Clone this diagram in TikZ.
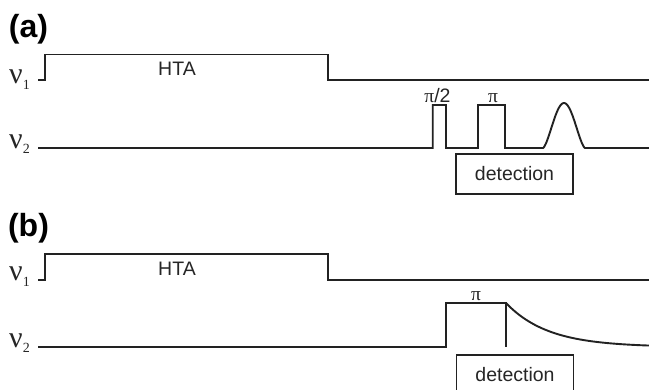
\documentclass[tikz,border=0pt]{standalone}
\usepackage{fontspec}
\setmainfont{Liberation Sans}
\newfontfamily\grkfont{Liberation Serif}
\newfontfamily\pifont{Liberation Serif}
\definecolor{ink}{HTML}{222222}
\definecolor{txt}{HTML}{262626}
\begin{document}
\begin{tikzpicture}[x=1pt,y=-1pt,
  trace/.style={line width=1.9pt, draw=ink, line join=miter},
  paneltag/.style={inner sep=0pt, text=black, font=\fontsize{32}{32}\selectfont\bfseries},
  nulab/.style={anchor=base west, inner sep=0pt, text=txt, font=\grkfont\fontsize{30}{30}\selectfont},
  lbl/.style={inner sep=0pt, text=txt, font=\fontsize{19.5}{19.5}\selectfont},
  pilab/.style={anchor=base, inner sep=0pt, text=txt, font=\fontsize{19.5}{19.5}\selectfont},
  detbox/.style={draw=ink, line width=1.1pt, minimum width=117pt, minimum height=40pt, inner sep=0pt, text=txt, font=\fontsize{19.5}{19.5}\selectfont}
]
\clip (0,0) rectangle (649,389);
\fill[white] (0,0) rectangle (649,389);

% ---------- panel (a) ----------
\node[paneltag] (taga) at (28.5,29) {(a)};
\node[nulab] (nuonea) at (9,83.5) {ν\raisebox{-5.5pt}{\fontsize{14}{14}\selectfont 1}};
\node[nulab] (nutwoa) at (9,148) {ν\raisebox{-5.5pt}{\fontsize{14}{14}\selectfont 2}};
\draw[trace] (38,80) -- (45,80) -- (45,54.5) -- (328,54.5) -- (328,80) -- (649,80);
\node[lbl] (htaa) at (177,69) {HTA};
\draw[trace] (38,148) -- (432.7,148) -- (432.7,105) -- (446,105) -- (446,148)
  -- (478,148) -- (478,105) -- (505,105) -- (505,148) -- (543,148)
  -- plot[domain=-20.5:20.5, samples=60] ({564+\x},{148-45*(cos(90*\x/21))^1.5})
  -- (585,148) -- (649,148);
\node[pilab] (pihalfa) at (437.5,102.5) {{\pifont π}/2};
\node[pilab] (pia) at (493,102.5) {\pifont π};
\node[detbox] (deta) at (514.5,174) {detection};

% ---------- panel (b) ----------
\node[paneltag] (tagb) at (28.5,228) {(b)};
\node[nulab] (nuoneb) at (9,280.5) {ν\raisebox{-5.5pt}{\fontsize{14}{14}\selectfont 1}};
\node[nulab] (nutwob) at (9,347) {ν\raisebox{-5.5pt}{\fontsize{14}{14}\selectfont 2}};
\draw[trace] (38,280) -- (45,280) -- (45,254) -- (328,254) -- (328,280) -- (649,280);
\node[lbl] (htab) at (177,269) {HTA};
\draw[trace] (38,347) -- (446,347) -- (446,303) -- (506,303) -- (506,347);
\draw[trace] (506,303) -- plot[domain=0:143, samples=70] ({506+\x},{347-44*exp(-\x/42)});
\node[pilab] (pib) at (476,300.5) {\pifont π};
\node[detbox] (detb) at (515,375) {detection};
\end{tikzpicture}
\end{document}
